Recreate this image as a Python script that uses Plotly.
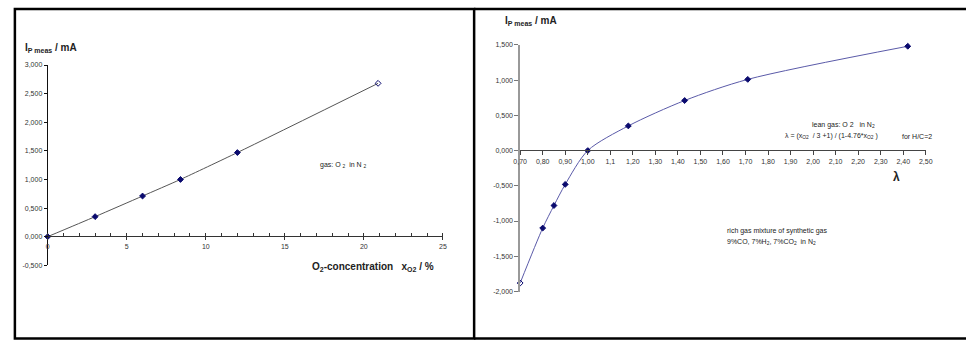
import plotly.graph_objects as go

W, H = 966, 343

# ---- data ----
o2_conc = [0, 3.0, 6.0, 8.4, 12.0, 20.9]
ip_left = [0.0, 0.35, 0.71, 1.00, 1.47, 2.68]
left_symbols = ["diamond", "diamond", "diamond", "diamond", "diamond", "diamond-open"]

lam = [0.70, 0.80, 0.85, 0.90, 1.00, 1.18, 1.43, 1.71, 2.42]
ip_right = [-1.88, -1.10, -0.78, -0.48, 0.0, 0.35, 0.71, 1.01, 1.48]
right_symbols = ["diamond-open"] + ["diamond"] * 8

left_xticks = [0, 5, 10, 15, 20, 25]
left_xticktext = ["0", "5", "10", "15", "20", "25"]
left_yticks = [-0.5, 0.0, 0.5, 1.0, 1.5, 2.0, 2.5, 3.0]
left_yticktext = ["-0,500", "0,000", "0,500", "1,000", "1,500", "2,000", "2,500", "3,000"]

right_xticks = [0.7, 0.8, 0.9, 1.0, 1.1, 1.2, 1.3, 1.4, 1.5, 1.6, 1.7, 1.8, 1.9, 2.0, 2.1, 2.2, 2.3, 2.4, 2.5]
right_xticktext = ["0,70", "0,80", "0,90", "1,00", "1,1", "1,20", "1,30", "1,40", "1,50", "1,60",
                   "1,70", "1,80", "1,90", "2,00", "2,10", "2,20", "2,30", "2,40", "2,50"]
right_yticks = [-2.0, -1.5, -1.0, -0.5, 0.0, 0.5, 1.0, 1.5]
right_yticktext = ["-2,000", "-1,500", "-1,000", "-0,500", "0,000", "0,500", "1,000", "1,500"]


def px(x):
    return x / W


def py(y):
    return 1 - y / H


FONT = "Liberation Sans, Arial, sans-serif"
NAVY = "#0a0a6e"

fig = go.Figure()

fig.add_trace(go.Scatter(
    x=o2_conc, y=ip_left, mode="lines+markers",
    line=dict(color="#555555", width=1, shape="spline", smoothing=0.6),
    marker=dict(symbol=left_symbols, size=4.5, color=NAVY, line=dict(color=NAVY, width=1)),
    xaxis="x", yaxis="y", cliponaxis=False, showlegend=False,
))

fig.add_trace(go.Scatter(
    x=lam, y=ip_right, mode="lines+markers",
    line=dict(color="#5a5aa8", width=1, shape="spline", smoothing=0.8),
    marker=dict(symbol=right_symbols, size=4.5, color=NAVY, line=dict(color=NAVY, width=1)),
    xaxis="x2", yaxis="y2", cliponaxis=False, showlegend=False,
))

tickfont = dict(family=FONT, size=7, color="#333333")

fig.update_layout(
    width=W, height=H, autosize=False,
    margin=dict(l=0, r=0, t=0, b=0, pad=0),
    paper_bgcolor="white", plot_bgcolor="rgba(0,0,0,0)",
    xaxis=dict(
        domain=[px(41.3), px(442.3)], range=[0, 25], anchor="free", position=py(237.0),
        tickvals=left_xticks, ticktext=left_xticktext, tickfont=tickfont,
        showline=True, linecolor="#333333", linewidth=1, showgrid=False, zeroline=False,
        ticks="outside", ticklen=3, tickcolor="#333333",
        minor=dict(tickvals=list(range(0, 26)), ticks="inside", ticklen=3, tickcolor="#333333"),
        fixedrange=True,
    ),
    yaxis=dict(
        domain=[py(266.7), py(62.3)], range=[-0.5, 3.0], anchor="x",
        tickvals=left_yticks, ticktext=left_yticktext, tickfont=tickfont,
        showline=True, linecolor="#111111", linewidth=1, showgrid=False, zeroline=False,
        ticks="outside", ticklen=3, tickcolor="#111111",
        fixedrange=True,
    ),
    xaxis2=dict(
        domain=[px(520.7), px(932.3)], range=[0.7, 2.5], anchor="free", position=py(149.5),
        tickvals=right_xticks, ticktext=right_xticktext, tickfont=tickfont,
        showline=True, linecolor="#444444", linewidth=1, showgrid=False, zeroline=False,
        ticks="outside", ticklen=4, tickcolor="#444444",
        fixedrange=True,
    ),
    yaxis2=dict(
        domain=[py(293.5), py(41.7)], range=[-2.0, 1.5], anchor="x2",
        tickvals=right_yticks, ticktext=right_yticktext, tickfont=tickfont,
        showline=True, linecolor="#999999", linewidth=1.5, showgrid=False, zeroline=False,
        ticks="outside", ticklen=4, tickcolor="#777777",
        fixedrange=True,
    ),
)

NB = "\u00a0"
annotations = [
    # left panel
    dict(x=px(16), y=py(45), text="<b>I<sub>P meas</sub> / mA</b>", size=10),
    dict(x=px(307), y=py(268), text="<b>O<sub>2</sub>-concentration" + NB * 3 + "x<sub>O2</sub> / %</b>", size=10),
    dict(x=px(316), y=py(164), text="gas: O <sub>2</sub>" + NB * 2 + "in N <sub>2</sub>", size=7),
    # right panel
    dict(x=px(503), y=py(17), text="<b>I<sub>P meas</sub> / mA</b>", size=10),
    dict(x=px(815), y=py(124), text="lean gas: O 2" + NB * 3 + "in N<sub>2</sub>", size=7),
    dict(x=px(787), y=py(135), text="λ = (x<sub>O2</sub>" + NB * 2 + "/ 3 +1) / (1-4.76*x<sub>O2</sub> )", size=7),
    dict(x=px(906), y=py(135), text="for H/C=2", size=7),
    dict(x=px(897), y=py(177), text="<b>λ</b>", size=12),
    dict(x=px(729), y=py(232), text="rich gas mixture of" + NB + "synthetic gas", size=7),
    dict(x=px(729), y=py(243), text="9%CO, 7%H<sub>2</sub>, 7%CO<sub>2</sub>" + NB + " in N<sub>2</sub>", size=7),
]
for a in annotations:
    fig.add_annotation(
        x=a["x"], y=a["y"], xref="paper", yref="paper", text=a["text"],
        showarrow=False, xanchor="left", yanchor="middle",
        font=dict(family=FONT, size=a["size"], color="#222222"),
    )

# panel borders
fig.add_shape(type="rect", xref="paper", yref="paper",
              x0=px(8), x1=px(474), y0=py(341.5), y1=py(5),
              line=dict(color="black", width=2.5))
fig.add_shape(type="line", xref="paper", yref="paper",
              x0=px(474), x1=1.01, y0=py(5), y1=py(5), line=dict(color="black", width=2.5))
fig.add_shape(type="line", xref="paper", yref="paper",
              x0=px(474), x1=1.01, y0=py(341.5), y1=py(341.5), line=dict(color="black", width=2.5))

fig.write_html(
    "out.html",
    config={"responsive": False, "displayModeBar": False},
    post_script="document.body.style.margin='0';document.body.style.padding='0';"
                "document.body.style.overflow='hidden';",
)
